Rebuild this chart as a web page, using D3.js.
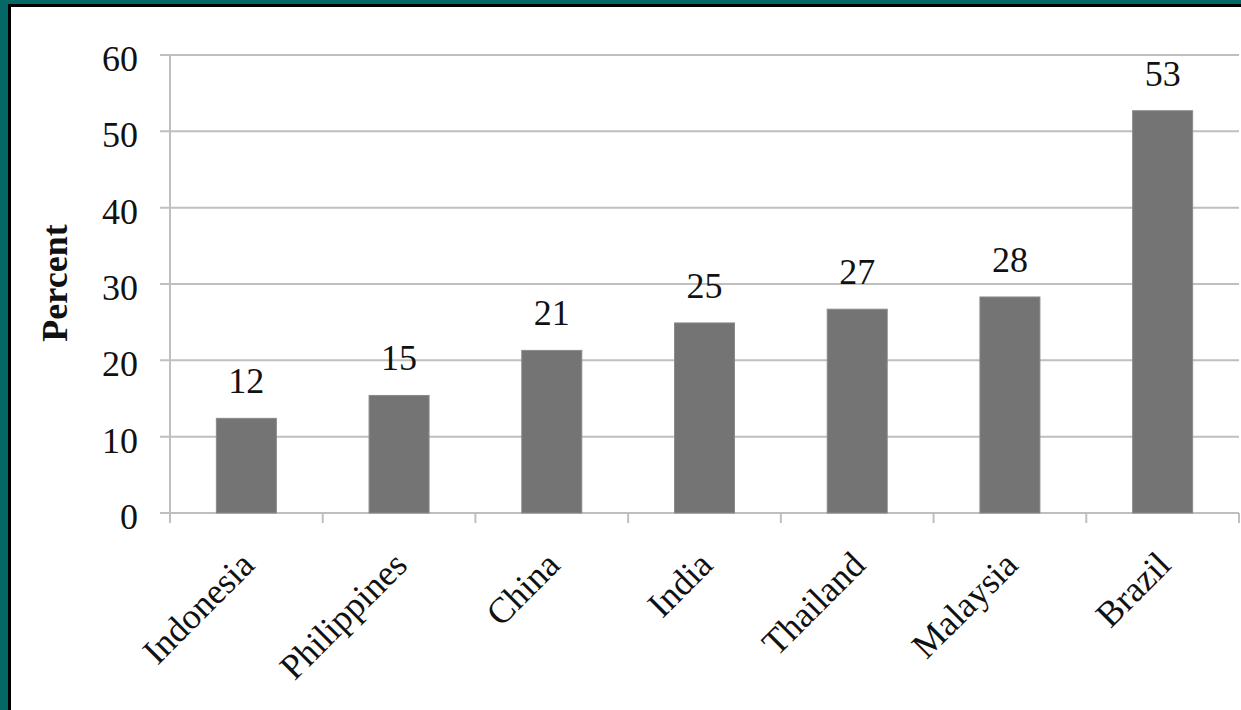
<!DOCTYPE html>
<html>
<head>
<meta charset="utf-8">
<script src="https://cdn.jsdelivr.net/npm/d3@7"></script>
<style>
  html, body { margin: 0; padding: 0; background: #056866; }
  svg { display: block; }
</style>
</head>
<body>
<svg id="chart" width="1241" height="710"></svg>
<script>
const categories = ["Indonesia", "Philippines", "China", "India", "Thailand", "Malaysia", "Brazil"];
const values = [12.4, 15.4, 21.3, 24.9, 26.7, 28.3, 52.7];
const valueLabels = ["12", "15", "21", "25", "27", "28", "53"];
const yTicks = [0, 10, 20, 30, 40, 50, 60];
const yTitle = "Percent";

const svg = d3.select("#chart");
const W = 1241, H = 710;
const font = "'Liberation Serif', 'Times New Roman', serif";
const fs = 36;

// frame
svg.append("rect").attr("x", 0).attr("y", 0).attr("width", W).attr("height", H).attr("fill", "#056866");
svg.append("rect").attr("x", 8).attr("y", 4).attr("width", W - 8).attr("height", H - 4).attr("fill", "#000");
svg.append("rect").attr("x", 11).attr("y", 7).attr("width", W - 11).attr("height", H - 7).attr("fill", "#fff");

const plotL = 170, plotR = 1239, plotT = 55, plotB = 513;
const x = d3.scaleBand().domain(categories).range([plotL, plotR]).padding(0);
const y = d3.scaleLinear().domain([0, 60]).range([plotB, plotT]);

const gridColor = "#bfbfbf";

// gridlines + y tick marks
svg.append("g").selectAll("line").data(yTicks).join("line")
  .attr("x1", plotL - 10).attr("x2", plotR)
  .attr("y1", d => y(d)).attr("y2", d => y(d))
  .attr("stroke", gridColor).attr("stroke-width", 2);

// y axis line
svg.append("line").attr("x1", plotL).attr("x2", plotL)
  .attr("y1", plotT).attr("y2", plotB + 10)
  .attr("stroke", gridColor).attr("stroke-width", 2);

// category ticks at band boundaries
const bounds = categories.map(c => x(c)).concat([x(categories[categories.length - 1]) + x.bandwidth()]);
svg.append("g").selectAll("line").data(bounds).join("line")
  .attr("x1", d => d).attr("x2", d => d)
  .attr("y1", plotB).attr("y2", plotB + 10)
  .attr("stroke", gridColor).attr("stroke-width", 2);

// y tick labels
svg.append("g").selectAll("text").data(yTicks).join("text")
  .attr("x", 138).attr("y", d => y(d) + 16)
  .attr("text-anchor", "end")
  .attr("font-family", font).attr("font-size", fs).attr("fill", "#111")
  .text(d => d);

// bars
const bw = 60;
svg.append("g").selectAll("rect").data(values).join("rect")
  .attr("x", (d, i) => x(categories[i]) + x.bandwidth() / 2 - bw / 2)
  .attr("y", d => y(d))
  .attr("width", bw)
  .attr("height", d => plotB - y(d))
  .attr("fill", "#747474")
  .attr("stroke", "#8a8a8a").attr("stroke-width", 1);

// value labels
svg.append("g").selectAll("text").data(values).join("text")
  .attr("x", (d, i) => x(categories[i]) + x.bandwidth() / 2)
  .attr("y", d => y(d) - 25)
  .attr("text-anchor", "middle")
  .attr("font-family", font).attr("font-size", fs).attr("fill", "#111")
  .text((d, i) => valueLabels[i]);

// category labels
svg.append("g").selectAll("text").data(categories).join("text")
  .attr("transform", d => `translate(${x(d) + x.bandwidth() / 2 + 10},${plotB + 54}) rotate(-45)`)
  .attr("text-anchor", "end")
  .attr("font-family", font).attr("font-size", fs).attr("fill", "#111")
  .text(d => d);

// y title
svg.append("text")
  .attr("transform", `translate(67,283) rotate(-90)`)
  .attr("text-anchor", "middle")
  .attr("font-family", font).attr("font-size", fs).attr("font-weight", "bold").attr("fill", "#111")
  .text(yTitle);
</script>
</body>
</html>
